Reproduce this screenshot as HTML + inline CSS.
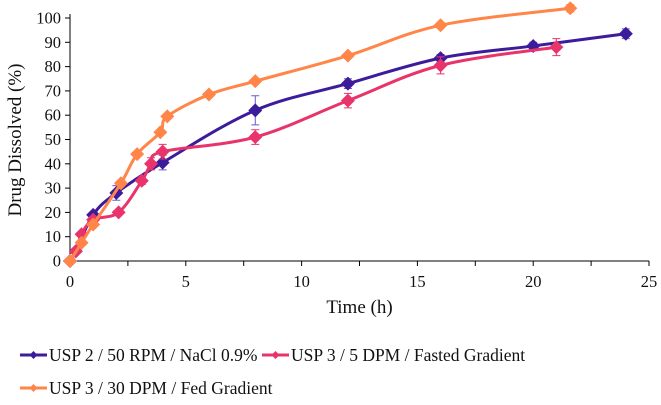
<!DOCTYPE html>
<html><head><meta charset="utf-8"><style>
body{margin:0;background:#fff;}
svg{display:block;font-family:"Liberation Serif",serif;}
</style></head><body>
<svg id="chart" width="661" height="405" viewBox="0 0 661 405" xmlns="http://www.w3.org/2000/svg"></svg>
<script>
const xTicks=[0,5,10,15,20,25];
const yTicks=[0,10,20,30,40,50,60,70,80,90,100];
const blueX=[0,0.25,1,2,4,8,12,16,20,24];
const blueY=[0,4,19,28,40.5,62,73,83.5,88.5,93.5];
const blueErr=[0,0,1,3,3,6,2,1.5,1.5,2];
const pinkX=[0,0.25,0.5,1,2.1,3.1,3.5,4,8,12,16,21];
const pinkY=[0,4,11,17,20,33,40,45,51,66,80.5,88];
const pinkErr=[0,0,0,0,0,1.5,2.5,3,3,3,3.5,3.5];
const orangeX=[0,0.5,1,2.2,2.9,3.9,4.2,6,8,12,16,21.6];
const orangeY=[0,7.5,15,32,44,53,59.5,68.5,74,84.5,97,104];
const orangeErr=[0,0,0,0,0,0,0,0,0,0,0,1.5];
const seriesNames=["USP 2 / 50 RPM / NaCl 0.9%","USP 3 / 5 DPM / Fasted Gradient","USP 3 / 30 DPM / Fed Gradient"];

const NS="http://www.w3.org/2000/svg";
const svg=document.getElementById('chart');
const X0=70,X1=649,Y0=261,Y1=18;
const sx=v=>X0+(v/25)*(X1-X0);
const sy=v=>Y0-(v/100)*(Y0-Y1);
function mk(t,a,p){const e=document.createElementNS(NS,t);for(const k in a)e.setAttribute(k,a[k]);(p||svg).appendChild(e);return e;}

let ax=mk('line',{x1:X0,y1:14,x2:X0,y2:Y0,stroke:'#000','stroke-width':1});


ax=mk('line',{x1:X0,y1:Y0,x2:X1,y2:Y0,stroke:'#000','stroke-width':1});


yTicks.forEach(v=>{
  const t=mk('line',{x1:X0-5,y1:sy(v),x2:X0,y2:sy(v),stroke:'#000'});
  
  
  const l=mk('text',{x:X0-9,y:sy(v)+5.5,'text-anchor':'end','font-size':16.5,fill:'#111'});
  l.textContent=v;
  
  
});
for(let v=0;v<=25;v+=2.5){
  const t=mk('line',{x1:sx(v),y1:Y0,x2:sx(v),y2:Y0+5,stroke:'#000'});
  
  
}
xTicks.forEach(v=>{
  const l=mk('text',{x:sx(v),y:Y0+26,'text-anchor':'middle','font-size':16.5,fill:'#111'});
  l.textContent=v;
  
  
});
let tt=mk('text',{x:(X0+X1)/2,y:313,'text-anchor':'middle','font-size':19,fill:'#111'});
tt.textContent='Time (h)';


tt=mk('text',{x:0,y:0,'text-anchor':'middle','font-size':19,fill:'#111',transform:'translate(21,140) rotate(-90)'});
tt.textContent='Drug Dissolved (%)';



function smooth(pts){
  let d='M'+pts[0][0]+','+pts[0][1];
  for(let i=0;i<pts.length-1;i++){
    const p0=pts[i-1]||pts[i],p1=pts[i],p2=pts[i+1],p3=pts[i+2]||p2;
    const t=0.17;
    const c1=[p1[0]+(p2[0]-p0[0])*t,p1[1]+(p2[1]-p0[1])*t];
    const c2=[p2[0]-(p3[0]-p1[0])*t,p2[1]-(p3[1]-p1[1])*t];
    d+=' C'+c1+' '+c2+' '+p2;
  }
  return d;
}
function diamond(x,y,s){return `M${x},${y-s} L${x+s},${y} L${x},${y+s} L${x-s},${y} Z`;}
function series(xs,ys,es,color,name,errColor){
  const g=mk('g',{});
  
  
  const pts=xs.map((x,i)=>[sx(x),sy(ys[i])]);
  const p=mk('path',{d:smooth(pts),fill:'none',stroke:color,'stroke-width':3},g);
  
  
  pts.forEach((pt,i)=>{
    if(es[i]>0){
      const e=mk('path',{d:`M${pt[0]},${sy(ys[i]-es[i])} V${sy(ys[i]+es[i])} M${pt[0]-4},${sy(ys[i]-es[i])} h8 M${pt[0]-4},${sy(ys[i]+es[i])} h8`,stroke:errColor,'stroke-width':1,fill:'none'},g);
      
      
    }
    const m=mk('path',{d:diamond(pt[0],pt[1],7),fill:color},g);
    
    
  });
}
series(blueX,blueY,blueErr,'#3d1c9c','usp2-series','#6a5acd');
series(pinkX,pinkY,pinkErr,'#e8336b','usp3-fasted-series','#e8336b');
series(orangeX,orangeY,orangeErr,'#ff8548','usp3-fed-series','#ff8548');

const legend=[[20,355,'#3d1c9c',0],[262,355,'#e8336b',1],[20,388,'#ff8548',2]];
legend.forEach(l=>{
  const g=mk('g',{});
  
  
  mk('line',{x1:l[0],y1:l[1],x2:l[0]+27,y2:l[1],stroke:l[2],'stroke-width':3},g);
  mk('path',{d:diamond(l[0]+13.5,l[1],4),fill:l[2]},g);
  const t=mk('text',{x:l[0]+29,y:l[1]+6,'font-size':17.5,fill:'#111'},g);
  t.textContent=seriesNames[l[3]];
});
</script>
</body></html>
